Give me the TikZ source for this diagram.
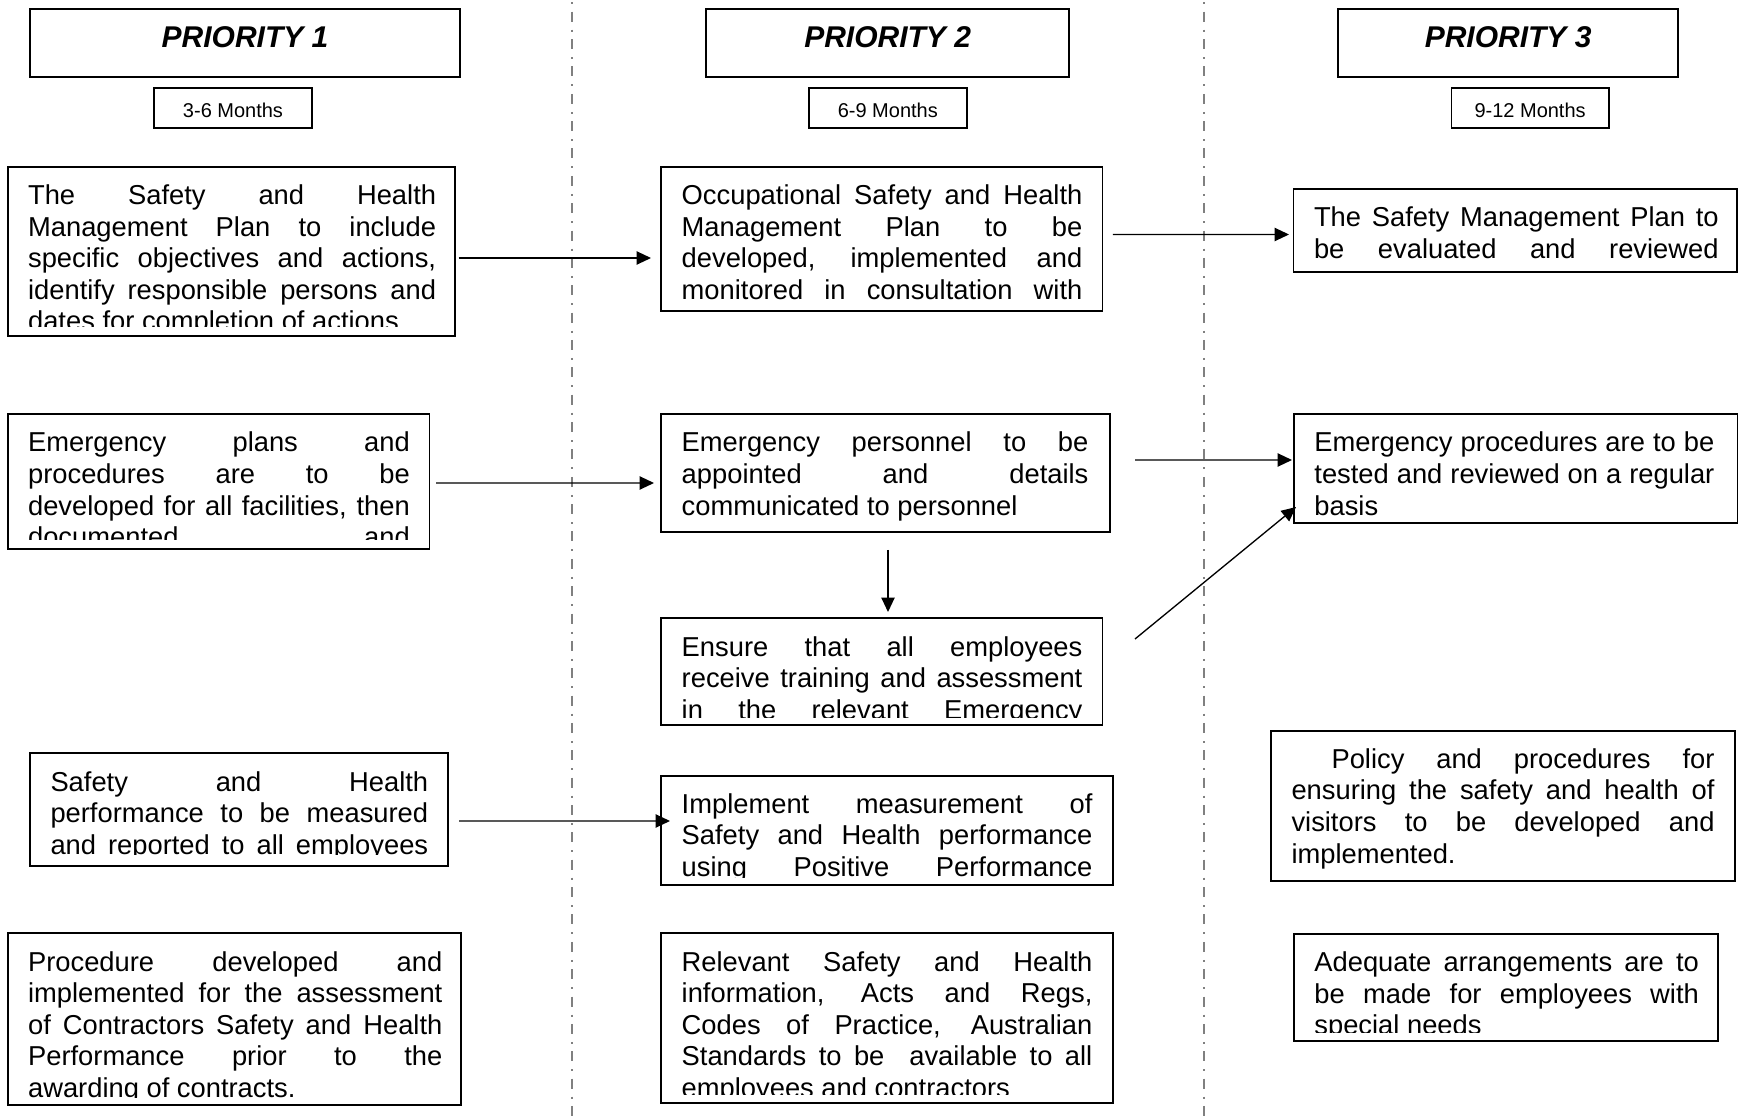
\documentclass[tikz,border=0pt]{standalone}
\usepackage{fontspec}
\setmainfont{Liberation Sans}
\usetikzlibrary{arrows.meta,fit}
\definecolor{divgray}{RGB}{128,128,128}
\newcommand\tbox[8]{%
  \node[boxst, fit={(#2,#3) (#4,#5)}] (#1) {};
  \begin{scope}
    \clip (#2,#3) rectangle (#4,#6);
    \node[body, text width={#7*0.45pt}] (#1t) at ([shift={(20.5,37.7)}]#1.north west)
      {\leftskip=0pt\rightskip=0pt\relax #8};
  \end{scope}}
\newcommand\contd{\linebreak\hbox{}}
\begin{document}
\begin{tikzpicture}[x=0.45pt,y=-0.45pt,
  boxst/.style={draw=black, line width=0.85pt, inner sep=0pt, outer sep=0pt, rectangle},
  body/.style={inner sep=0pt, outer sep=0pt, anchor=base west, align=justify,
    font=\fontsize{12.3pt}{14.2pt}\selectfont,
    execute at begin node={\tolerance=10000\hbadness=10000\hyphenpenalty=10000\exhyphenpenalty=10000}},
  head/.style={inner sep=0pt, anchor=base, font=\fontsize{13.5pt}{16pt}\selectfont\bfseries\itshape},
  months/.style={inner sep=0pt, anchor=base, font=\fontsize{9pt}{11pt}\selectfont},
  arr/.style={line width=0.6pt, -{Triangle[length=6.5pt,width=6pt]}},
  divider/.style={draw=divgray, line width=0.9pt, dash pattern=on 4.5pt off 3.6pt on 0.9pt off 3.31pt}
]
\useasboundingbox (0,0) rectangle (1739,1120);
\fill[white] (0,0) rectangle (1739,1120);

% column dividers
\draw[divider] (572,-15.65) -- (572,1125);
\draw[divider] (1203.5,-15.65) -- (1203.5,1125);

% headers
\node[boxst, fit={(30,9) (460,77)}] (p1h) {};
\node[head] (p1ht) at ([shift={(0,39)}]p1h.north) {PRIORITY 1};
\node[boxst, fit={(706.4,9) (1068.8,77)}] (p2h) {};
\node[head] (p2ht) at ([shift={(0,39)}]p2h.north) {PRIORITY 2};
\node[boxst, fit={(1338.4,9) (1677.8,77)}] (p3h) {};
\node[head] (p3ht) at ([shift={(0,39)}]p3h.north) {PRIORITY 3};

\node[boxst, fit={(154,88) (312,128)}] (m1) {};
\node[months] (m1t) at ([shift={(0,29.5)}]m1.north) {3-6 Months};
\node[boxst, fit={(809,88) (966.6,128)}] (m2) {};
\node[months] (m2t) at ([shift={(0,29.5)}]m2.north) {6-9 Months};
\node[boxst, fit={(1451.5,88) (1608.7,128)}] (m3) {};
\node[months] (m3t) at ([shift={(0,29.5)}]m3.north) {9-12 Months};

% priority 1
\tbox{p1a}{7.6}{167}{455.4}{336}{327}{408}{The Safety and Health\linebreak Management Plan to include\linebreak specific objectives and actions,\linebreak identify responsible persons and\linebreak dates for completion of actions}
\tbox{p1b}{7.6}{414.3}{429.5}{549}{540}{381.7}{Emergency plans and\linebreak procedures are to be\linebreak developed for all facilities, then\linebreak documented and\contd}
\tbox{p1c}{30}{753.3}{448.2}{865.7}{854.5}{377.7}{Safety and Health\linebreak performance to be measured\linebreak and reported to all employees\contd}
\tbox{p1d}{7.6}{933.3}{461}{1105}{1097}{414.3}{Procedure developed and\linebreak implemented for the assessment\linebreak of Contractors Safety and Health\linebreak Performance prior to the\linebreak awarding of contracts.}

% priority 2
\tbox{p2a}{661.2}{167}{1102.5}{311}{301}{400.7}{Occupational Safety and Health\linebreak Management Plan to be\linebreak developed, implemented and\linebreak monitored in consultation with\contd}
\tbox{p2b}{661.2}{414.3}{1109.8}{532.3}{523}{406.7}{Emergency personnel to be\linebreak appointed and details\linebreak communicated to personnel}
\tbox{p2c}{661.2}{618.3}{1102.5}{725}{717}{400.7}{Ensure that all employees\linebreak receive training and assessment\linebreak in the relevant Emergency\contd}
\tbox{p2d}{661.2}{775.7}{1112.8}{885}{877}{410.7}{Implement measurement of\linebreak Safety and Health performance\linebreak using Positive Performance\contd}
\tbox{p2e}{661.2}{933.3}{1112.8}{1103.3}{1094.5}{410.7}{Relevant Safety and Health\linebreak information, Acts and Regs,\linebreak Codes of Practice, Australian\linebreak Standards to be\ \ available to all\linebreak employees and contractors}

% priority 3
\tbox{p3a}{1293.5}{189}{1737}{271.7}{262}{404.6}{The Safety Management Plan to\linebreak be evaluated and reviewed\contd}
\tbox{p3b}{1293.9}{414.3}{1737.5}{523.3}{519}{400}{Emergency procedures are to be\linebreak tested and reviewed on a regular\linebreak basis}
\tbox{p3c}{1271}{730.7}{1735}{881}{873}{423}{\hspace*{18pt}Policy and procedures for\linebreak ensuring the safety and health of\linebreak visitors to be developed and\linebreak implemented.}
\tbox{p3d}{1293.9}{934}{1718.4}{1041}{1032}{384.5}{Adequate arrangements are to\linebreak be made for employees with\linebreak special needs}

% connectors
\draw[arr] ([shift={(3.1,6.5)}]p1a.east) -- ([shift={(-10.2,19)}]p2a.west);
\draw[arr] ([shift={(10.3,-4.5)}]p2a.east) -- ([shift={(-4.5,4.15)}]p3a.west);
\draw[arr] ([shift={(6.5,1.35)}]p1b.east) -- ([shift={(-7.2,9.7)}]p2b.west);
\draw[arr] ([shift={(25.2,-13.3)}]p2b.east) -- ([shift={(-1.9,-8.8)}]p3b.west);
\draw[arr] ([shift={(32.5,-32.65)}]p2c.east) -- ([shift={(2.1,-16.3)}]p3b.south west);
\draw[arr] ([shift={(2.5,17.7)}]p2b.south) -- ([shift={(6.15,-6.3)}]p2c.north);
\draw[arr] ([shift={(10.8,11.5)}]p1c.east) -- ([shift={(8.8,-9.35)}]p2d.west);
\end{tikzpicture}
\end{document}
